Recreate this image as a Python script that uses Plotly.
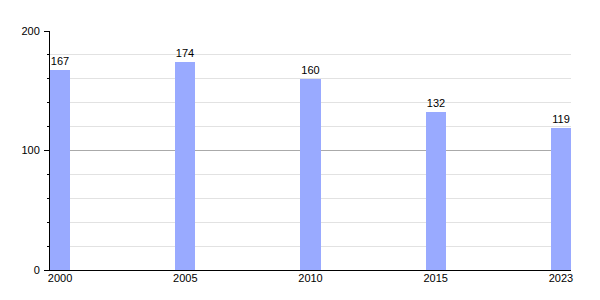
import plotly.graph_objects as go

years = ["2000", "2005", "2010", "2015", "2023"]
values = [167, 174, 160, 132, 119]

fig = go.Figure(go.Bar(
    x=years, y=values, width=0.16,
    marker=dict(color="#99aaff", line=dict(width=0)),
    text=[str(v) for v in values], textposition="outside",
    textfont=dict(family="Liberation Sans, Arial, sans-serif", size=11, color="#000"),
    cliponaxis=False,
))

fig.update_layout(
    width=600, height=300,
    margin=dict(l=50, r=29, t=31, b=30),
    paper_bgcolor="white", plot_bgcolor="white",
    showlegend=False,
    font=dict(family="Liberation Sans, Arial, sans-serif", size=11, color="#000"),
    xaxis=dict(type="category", range=[-0.08, 4.08], showline=True, linecolor="#000",
               linewidth=1, showgrid=False, ticks="", tickfont=dict(size=11),
               ticklabelstandoff=-2),
    yaxis=dict(range=[0, 200], dtick=100, showline=True, linecolor="#000", linewidth=1,
               ticks="outside", ticklen=5, tickcolor="#000", gridcolor="#aaaaaa",
               zeroline=False, tickfont=dict(size=11), ticklabelstandoff=2,
               minor=dict(dtick=20, ticks="outside", ticklen=2, tickcolor="#000",
                          showgrid=True, gridcolor="#e2e2e2")),
    bargap=0,
)

fig.write_html("out.html")
